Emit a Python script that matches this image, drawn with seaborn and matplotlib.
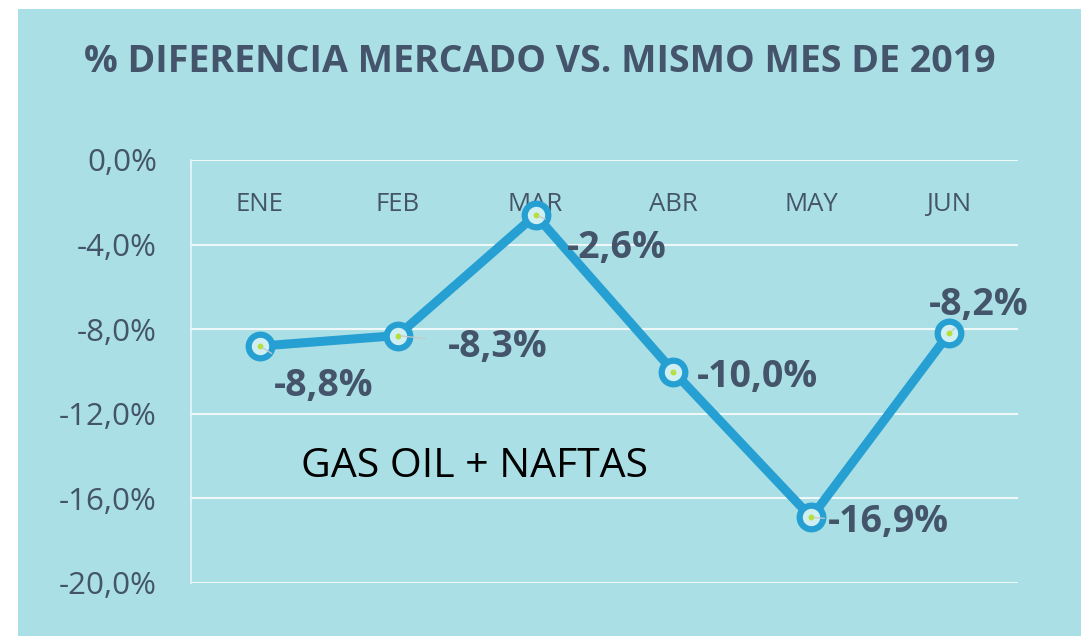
import numpy as np
import pandas as pd
import seaborn as sns
import matplotlib.pyplot as plt
from matplotlib.patches import Rectangle
from matplotlib.ticker import FuncFormatter

# datos
meses = ["ENE", "FEB", "MAR", "ABR", "MAY", "JUN"]
dif_pct = [-8.8, -8.3, -2.6, -10.0, -16.9, -8.2]
y_ticks = [0, -4, -8, -12, -16, -20]

# desplazamiento de etiquetas (pixeles)
label_offsets = [(64, -40), (100, -11), (81, -33), (84, -6), (77, -5), (30, 28)]

bg = "#AADFE5"
azul = "#26A0D2"
gris_txt = "#44546A"

sns.set_theme(style="white")
plt.rcParams['font.family'] = ['Open Sans', 'DejaVu Sans']

df = pd.DataFrame({"mes": meses, "pos": np.arange(len(meses)), "dif": dif_pct})

fig = plt.figure(figsize=(10.81, 6.36), dpi=100)
fig.patch.set_facecolor("white")
fig.patches.append(Rectangle((18 / 1081, 0), 1, 1 - 9 / 636, transform=fig.transFigure,
                             facecolor=bg, edgecolor="none", zorder=-10))

ax = fig.add_axes([191 / 1081, 1 - 583 / 636, (1018 - 191) / 1081, (583 - 160) / 636])
ax.set_facecolor("none")

sns.lineplot(data=df, x="pos", y="dif", ax=ax, color=azul, linewidth=6.5,
             marker="o", markersize=17, markerfacecolor="#CFEFF3",
             markeredgecolor=azul, markeredgewidth=4.5, zorder=3)
ax.scatter(df["pos"], df["dif"], s=18, color="#B5E03A", zorder=5, linewidths=0)

ax.set_xlim(-0.5, 5.5)
ax.set_ylim(-20, 0)
ax.set_yticks(y_ticks)
ax.yaxis.set_major_formatter(FuncFormatter(lambda v, p: f"{v:.1f}%".replace(".", ",")))
ax.grid(axis="y", color="#EEF8F9", linewidth=1.5)
ax.tick_params(axis="y", length=8.6, width=1.1, color="#EEF8F9", labelsize=22.5,
               labelcolor=gris_txt, pad=16)

ax.set_xticks(df["pos"])
ax.set_xticklabels(meses)
ax.xaxis.set_ticks_position("top")
ax.tick_params(axis="x", length=0, pad=-41, labelsize=18.5, labelcolor=gris_txt)

for s in ["top", "right", "bottom"]:
    ax.spines[s].set_visible(False)
ax.spines["left"].set_color("#EEF8F9")
ax.spines["left"].set_linewidth(1.1)
ax.set_xlabel("")
ax.set_ylabel("")

for i, v in enumerate(dif_pct):
    dx, dy = label_offsets[i]
    ax.annotate(f"{v:.1f}%".replace(".", ","), xy=(i, v), xytext=(dx, dy),
                textcoords="offset pixels", ha="center", va="center",
                fontsize=27, fontweight="bold", color=gris_txt, zorder=6,
                arrowprops=dict(arrowstyle="-", color="#C8C8C8", lw=0.9,
                                shrinkA=14, shrinkB=2))

ax.text(0.3, -14.5, "GAS OIL + NAFTAS", fontsize=29.5, color="black",
        va="center", ha="left", zorder=6)

fig.text(540 / 1081, 1 - 62 / 636, "% DIFERENCIA MERCADO VS. MISMO MES DE 2019",
         ha="center", va="center", fontsize=27, fontweight="bold", color=gris_txt)

fig.savefig("out.png", dpi=100, facecolor=fig.get_facecolor())
